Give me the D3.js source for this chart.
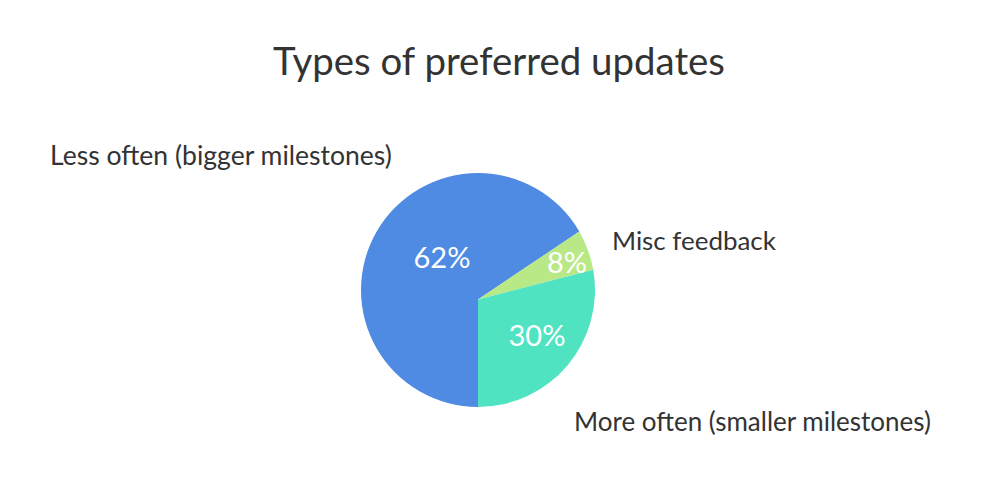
<!DOCTYPE html>
<html>
<head>
<meta charset="utf-8">
<script src="https://cdn.jsdelivr.net/npm/d3@7"></script>
<style>
  html, body { margin: 0; padding: 0; background: #fff; }
  svg { display: block; font-family: Lato, "Open Sans", sans-serif; }
</style>
</head>
<body>
<svg id="chart" width="1000" height="500"></svg>
<script>
// ---- data ----
const title = "Types of preferred updates";
const categories = ["Less often (bigger milestones)", "Misc feedback", "More often (smaller milestones)"];
const percentLabels = ["62%", "8%", "30%"];
// slice sizes as drawn in the picture (degrees of arc)
const sliceSizes = [240, 20, 100];
const colors = ["#4f8be3", "#b8e986", "#50e3c2"];

// ---- layout ----
const svg = d3.select("#chart");
const cx = 478, cy = 290, r = 117;
const apex = [478, 299.5];

const pie = d3.pie().sort(null).value(d => d)
  .startAngle(Math.PI).endAngle(3 * Math.PI);
const arcs = pie(sliceSizes);

const g = svg.append("g");
g.selectAll("path").data(arcs).join("path")
  .attr("fill", (d, i) => colors[i])
  .attr("d", d => {
    const p = d3.path();
    const a0 = d.startAngle - Math.PI / 2, a1 = d.endAngle - Math.PI / 2;
    p.moveTo(apex[0], apex[1]);
    p.lineTo(cx + r * Math.cos(a0), cy + r * Math.sin(a0));
    p.arc(cx, cy, r, a0, a1);
    p.closePath();
    return p.toString();
  });

function fitText(sel, width) {
  const node = sel.node();
  const w = node.getComputedTextLength();
  const fs = parseFloat(sel.attr("font-size"));
  sel.attr("font-size", fs * width / w);
}

// title
const t = svg.append("text").text(title)
  .attr("x", 499).attr("y", 75).attr("text-anchor", "middle")
  .attr("fill", "#333").attr("font-size", 34);
fitText(t, 452);

// category labels
const catPos = [[50, 165, 342], [612, 250, 164], [574, 431, 357]];
categories.forEach((c, i) => {
  const s = svg.append("text").text(c)
    .attr("x", catPos[i][0]).attr("y", catPos[i][1])
    .attr("fill", "#333").attr("font-size", 21);
  fitText(s, catPos[i][2]);
});

// percent labels inside slices
const pctPos = [[442, 268, 57], [567, 273, 40], [537, 346, 57]];
percentLabels.forEach((p, i) => {
  const s = svg.append("text").text(p)
    .attr("x", pctPos[i][0]).attr("y", pctPos[i][1])
    .attr("text-anchor", "middle")
    .attr("fill", "#fff").attr("font-size", 26);
  fitText(s, pctPos[i][2]);
});
</script>
</body>
</html>
